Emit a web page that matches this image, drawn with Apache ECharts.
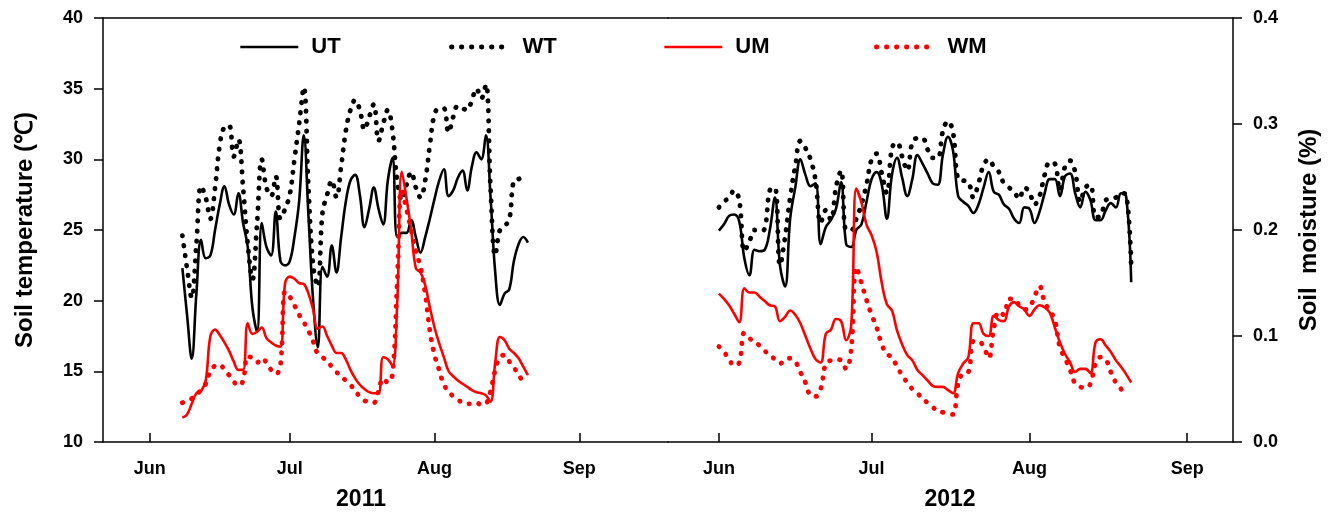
<!DOCTYPE html>
<html>
<head>
<meta charset="utf-8">
<script src="https://cdn.jsdelivr.net/npm/echarts@6/dist/echarts.min.js"></script>
<style>
html,body{margin:0;padding:0;background:#fff;}
#main{width:1328px;height:513px;}
</style>
</head>
<body>
<div id="main"></div>
<script>
// ---------- DATA (x = day offset from 1 June of each year) ----------
const monthDays = [0, 30, 61, 92];
const monthNames = ['Jun', 'Jul', 'Aug', 'Sep'];
const yearLabels = ['2011', '2012'];
const tempTicks = [10, 40, 5];      // min, max, step
const moistTicks = [0, 0.4, 0.1];

// 2011 (series start 8 Jun = day 7)
const start2011 = 7;
const ut2011 = [22.3,19.0,15.9,20.5,24.3,23.0,23.2,25.0,26.8,28.1,26.8,26.1,27.6,25.5,23.8,19.5,17.8,25.5,23.8,23.2,26.3,22.8,22.5,22.8,24.5,27.0,31.7,26.0,20.0,16.7,22.4,21.7,23.9,22.0,24.5,27.0,28.5,28.9,27.5,25.2,26.5,28.0,26.5,25.4,28.5,30.1,24.5,24.8,24.8,25.7,24.5,23.4,24.5,25.8,27.2,28.5,29.3,27.4,27.8,28.7,29.2,27.8,29.5,30.5,30.0,31.7,27.3,22.0,19.7,20.5,20.8,22.8,24.0,24.5,24.1];
const wt2011 = [24.6,22.3,20.2,24.0,28.1,27.3,25.8,28.0,31.0,32.3,32.4,30.2,31.4,28.0,24.0,21.5,25.5,30.0,28.0,27.4,28.8,25.8,26.5,27.5,30.0,32.5,35.1,28.0,22.5,21.0,26.2,27.5,28.5,27.3,29.5,32.0,33.5,34.2,33.5,32.1,33.0,33.9,31.3,32.5,33.5,32.0,28.5,27.1,28.2,29.1,28.0,27.3,28.5,31.0,33.2,33.6,33.6,31.9,33.0,33.8,33.6,33.5,34.2,35.0,34.3,35.3,28.0,23.2,25.0,25.3,25.7,28.5,28.6,28.8];
const um2011 = [0.023,0.026,0.036,0.046,0.048,0.058,0.100,0.106,0.101,0.094,0.086,0.076,0.068,0.068,0.112,0.102,0.104,0.108,0.098,0.094,0.091,0.090,0.150,0.156,0.154,0.150,0.149,0.140,0.125,0.107,0.109,0.100,0.091,0.084,0.084,0.078,0.068,0.060,0.054,0.050,0.047,0.046,0.046,0.080,0.078,0.072,0.130,0.255,0.230,0.200,0.164,0.160,0.148,0.127,0.108,0.093,0.080,0.067,0.062,0.058,0.055,0.052,0.049,0.047,0.046,0.044,0.038,0.075,0.099,0.096,0.088,0.084,0.079,0.071,0.063];
const wm2011 = [0.037,0.039,0.041,0.045,0.049,0.055,0.067,0.072,0.073,0.068,0.063,0.057,0.053,0.058,0.081,0.079,0.075,0.079,0.075,0.068,0.064,0.072,0.142,0.137,0.129,0.120,0.113,0.105,0.095,0.083,0.080,0.076,0.071,0.066,0.062,0.058,0.054,0.048,0.043,0.039,0.038,0.037,0.048,0.060,0.056,0.064,0.150,0.238,0.220,0.200,0.180,0.165,0.140,0.105,0.082,0.068,0.054,0.048,0.043,0.040,0.037,0.036,0.036,0.037,0.035,0.036,0.048,0.068,0.080,0.082,0.076,0.070,0.064,0.055];

// 2012 (series start 1 Jun = day 0)
const start2012 = 0;
const ut2012 = [24.95,25.4,26.0,26.1,25.6,23.0,21.8,23.6,23.5,23.6,25.0,27.3,22.5,21.0,25.8,28.0,30.0,28.9,28.1,28.3,24.0,25.2,25.7,26.5,28.4,24.0,23.8,25.0,25.4,27.0,28.6,29.1,28.2,25.8,28.9,30.1,28.7,27.4,28.6,30.3,29.7,29.0,28.3,28.2,30.3,31.6,30.6,27.4,27.0,26.7,26.2,26.8,28.0,29.1,27.7,27.5,26.8,26.5,25.8,25.5,26.6,26.5,25.5,26.3,27.6,28.6,28.6,27.4,28.8,29.0,27.6,26.6,27.7,27.1,25.7,25.7,26.4,26.9,26.6,27.6,27.4,21.3];
const wt2012 = [26.6,27.0,27.3,27.8,27.1,23.5,24.2,25.0,24.9,25.1,27.8,28.0,22.5,24.5,27.3,29.5,31.3,30.8,30.0,28.5,25.5,26.4,25.7,28.0,29.2,25.0,25.0,25.8,26.8,28.2,30.0,30.4,29.0,27.6,30.8,31.2,30.2,29.2,31.2,31.5,31.5,30.7,30.1,30.1,32.0,32.7,31.9,28.6,28.5,28.4,27.3,28.3,29.6,30.0,29.5,29.1,28.3,28.0,27.7,27.2,28.0,27.7,26.8,27.4,28.9,29.8,29.7,27.8,29.5,29.9,29.1,27.0,28.0,28.2,25.9,26.0,27.1,27.2,27.3,27.6,27.5,22.4];
const um2012 = [0.140,0.135,0.129,0.121,0.113,0.145,0.141,0.141,0.137,0.133,0.129,0.128,0.114,0.118,0.124,0.120,0.112,0.100,0.088,0.078,0.075,0.102,0.106,0.116,0.114,0.096,0.110,0.239,0.226,0.205,0.195,0.179,0.150,0.130,0.124,0.105,0.092,0.082,0.077,0.068,0.063,0.058,0.053,0.052,0.052,0.049,0.046,0.065,0.074,0.080,0.112,0.112,0.102,0.100,0.119,0.115,0.114,0.128,0.132,0.128,0.125,0.119,0.125,0.129,0.127,0.122,0.108,0.094,0.083,0.075,0.066,0.069,0.069,0.065,0.094,0.097,0.091,0.085,0.077,0.071,0.064,0.056];
const wm2012 = [0.090,0.085,0.078,0.072,0.075,0.103,0.098,0.094,0.091,0.086,0.082,0.078,0.074,0.078,0.079,0.076,0.066,0.056,0.044,0.043,0.050,0.074,0.077,0.078,0.077,0.069,0.088,0.165,0.150,0.134,0.120,0.108,0.092,0.083,0.080,0.071,0.063,0.056,0.050,0.046,0.041,0.037,0.033,0.029,0.028,0.027,0.026,0.055,0.065,0.066,0.095,0.095,0.090,0.079,0.107,0.123,0.120,0.135,0.135,0.129,0.125,0.127,0.137,0.147,0.132,0.124,0.115,0.089,0.079,0.068,0.055,0.052,0.051,0.055,0.074,0.080,0.078,0.066,0.056,0.050,0.043];

// ---------- CHART ----------
const FONT = '"Liberation Sans", Arial, Helvetica, sans-serif';
const chart = echarts.init(document.getElementById('main'));

function pts(start, arr) { return arr.map(function (v, i) { return [start + i, v]; }); }
function monthFmt(v) { const k = monthDays.indexOf(Math.round(v)); return k >= 0 ? monthNames[k] : ''; }

const axisLineStyle = { color: '#000', width: 1.5 };
const solidBlack = { color: '#000', width: 2.6 };
const dotBlack = { color: '#000', width: 4.8, type: [0.5, 9.5], cap: 'round' };
const solidRed = { color: '#ff0000', width: 2.6 };
const dotRed = { color: '#ff0000', width: 4.8, type: [0.5, 9.5], cap: 'round' };

function bottomX(grid, max) {
  return {
    gridIndex: grid, type: 'value', position: 'bottom', min: -10, max: max,
    axisLine: { show: true, onZero: false, lineStyle: axisLineStyle },
    axisTick: { show: true, inside: true, length: 9, customValues: monthDays, lineStyle: axisLineStyle },
    axisLabel: { show: true, customValues: monthDays, formatter: monthFmt, margin: 18,
      color: '#000', fontSize: 18, fontWeight: 'bold', fontFamily: FONT },
    splitLine: { show: false }
  };
}
function topX(grid, max) {
  return {
    gridIndex: grid, type: 'value', position: 'top', min: -10, max: max,
    axisLine: { show: true, onZero: false, lineStyle: axisLineStyle },
    axisTick: { show: false }, axisLabel: { show: false }, splitLine: { show: false }
  };
}
function line(name, xi, yi, start, arr, ls) {
  return { name: name, type: 'line', xAxisIndex: xi, yAxisIndex: yi, data: pts(start, arr),
    smooth: 0.4, symbol: 'none', showSymbol: false, lineStyle: ls, itemStyle: { color: ls.color },
    emphasis: { disabled: true } };
}
function legendAt(name, left) {
  return { data: [name], left: left, top: 36, padding: 0, itemWidth: 58, itemHeight: 14,
    textStyle: { fontSize: 22, fontWeight: 'bold', color: '#000', fontFamily: FONT, padding: [0, 0, 0, 8] },
    lineStyle: { width: 'inherit', type: 'inherit', cap: 'inherit' },
    itemStyle: { opacity: 0 }, selectedMode: false };
}

const option = {
  animation: false,
  backgroundColor: '#fff',
  grid: [
    { left: 103, right: 660, top: 18, bottom: 71 },
    { left: 668, right: 95, top: 18, bottom: 71 }
  ],
  legend: [legendAt('UT', 239), legendAt('WT', 449), legendAt('UM', 663), legendAt('WM', 874)],
  xAxis: [bottomX(0, 111), bottomX(1, 101), topX(0, 111), topX(1, 101)],
  yAxis: [
    { gridIndex: 0, type: 'value', position: 'left', min: tempTicks[0], max: tempTicks[1], interval: tempTicks[2],
      name: 'Soil temperature (℃)', nameLocation: 'middle', nameGap: 66, nameRotate: 90,
      nameTextStyle: { fontSize: 24, fontWeight: 'bold', color: '#000', fontFamily: FONT },
      axisLine: { show: true, onZero: false, lineStyle: axisLineStyle },
      axisTick: { show: true, inside: false, length: 9, lineStyle: axisLineStyle },
      axisLabel: { margin: 20, color: '#000', fontSize: 18, fontWeight: 'bold', fontFamily: FONT },
      splitLine: { show: false } },
    { gridIndex: 0, type: 'value', position: 'right', min: moistTicks[0], max: moistTicks[1], show: false,
      axisLine: { onZero: false }, splitLine: { show: false } },
    { gridIndex: 1, type: 'value', position: 'left', min: tempTicks[0], max: tempTicks[1], show: false,
      axisLine: { onZero: false }, splitLine: { show: false } },
    { gridIndex: 1, type: 'value', position: 'right', min: moistTicks[0], max: moistTicks[1], interval: moistTicks[2],
      name: 'Soil  moisture (%)', nameLocation: 'middle', nameGap: 64, nameRotate: 90,
      nameTextStyle: { fontSize: 24, fontWeight: 'bold', color: '#000', fontFamily: FONT },
      axisLine: { show: true, onZero: false, lineStyle: axisLineStyle },
      axisTick: { show: true, inside: false, length: 9, lineStyle: axisLineStyle },
      axisLabel: { margin: 20, color: '#000', fontSize: 18, fontWeight: 'bold', fontFamily: FONT,
        formatter: function (v) { return v.toFixed(1); } },
      splitLine: { show: false } }
  ],
  graphic: [
    { type: 'text', x: 361, y: 500, style: { text: yearLabels[0], textAlign: 'center', textVerticalAlign: 'middle',
      font: 'bold 23px ' + FONT, fill: '#000' } },
    { type: 'text', x: 950, y: 500, style: { text: yearLabels[1], textAlign: 'center', textVerticalAlign: 'middle',
      font: 'bold 23px ' + FONT, fill: '#000' } }
  ],
  series: [
    line('UT', 0, 0, start2011, ut2011, solidBlack),
    line('WT', 0, 0, start2011, wt2011, dotBlack),
    line('UM', 0, 1, start2011, um2011, solidRed),
    line('WM', 0, 1, start2011, wm2011, dotRed),
    line('UT', 1, 2, start2012, ut2012, solidBlack),
    line('WT', 1, 2, start2012, wt2012, dotBlack),
    line('UM', 1, 3, start2012, um2012, solidRed),
    line('WM', 1, 3, start2012, wm2012, dotRed)
  ]
};
chart.setOption(option);
</script>
</body>
</html>
